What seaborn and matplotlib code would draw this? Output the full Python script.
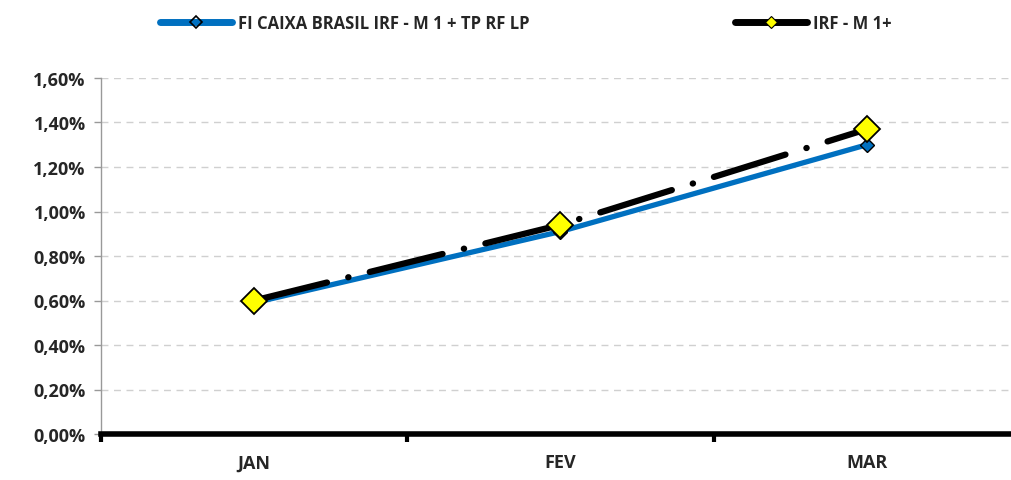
import pandas as pd
import seaborn as sns
import matplotlib.pyplot as plt
from matplotlib.lines import Line2D
from matplotlib.ticker import FuncFormatter, FixedLocator
from matplotlib import font_manager

months = ["JAN", "FEV", "MAR"]
fundo = [0.59, 0.91, 1.30]
indice = [0.60, 0.94, 1.37]
nome_fundo = "FI CAIXA BRASIL IRF - M 1 + TP RF LP"
nome_indice = "IRF - M 1+"

df = pd.DataFrame({"mes": range(len(months)), "fundo": fundo, "indice": indice})

sns.set_style("white")
names = {f.name for f in font_manager.fontManager.ttflist}
fam = [n for n in ["Liberation Sans Narrow", "Open Sans", "DejaVu Sans"] if n in names]
plt.rcParams["font.family"] = fam
plt.rcParams["font.weight"] = "bold"
plt.rcParams["xtick.bottom"] = True
plt.rcParams["ytick.left"] = True

fig = plt.figure(figsize=(10.12, 4.81), dpi=100)
ax = fig.add_axes([101 / 1012, 1 - 435 / 481, 919 / 1012, 356 / 481])

sns.lineplot(data=df, x="mes", y="fundo", ax=ax, color="#0070C0", linewidth=3.8,
             marker="D", markersize=7, markerfacecolor="#0070C0",
             markeredgecolor="black", markeredgewidth=1.0,
             solid_capstyle="round", zorder=3)
sns.lineplot(data=df, x="mes", y="indice", ax=ax, color="black", linewidth=4.5,
             linestyle=(0, (12, 3.5, 0.05, 3.5)), dash_capstyle="round",
             marker="D", markersize=13, markerfacecolor="#FFFF00",
             markeredgecolor="black", markeredgewidth=1.3, zorder=4)

ax.set_xlim(-0.5, 2.5)
ax.set_ylim(0, 1.6)
ax.set_xticks(range(len(months)))
ax.set_xticklabels(months, fontsize=13, fontweight="bold")
ax.xaxis.set_minor_locator(FixedLocator([-0.5, 0.5, 1.5, 2.5]))
ax.tick_params(axis="x", which="major", length=0, pad=14)
ax.tick_params(axis="x", which="minor", bottom=True, length=6, width=3,
               color="black", direction="out")
ax.set_yticks([i * 0.2 for i in range(9)])
ax.yaxis.set_major_formatter(FuncFormatter(lambda v, p: f"{v:.2f}%".replace(".", ",")))
ax.tick_params(axis="y", left=True, length=5, width=1, color="#999999",
               labelsize=13, pad=6)
for lab in ax.get_yticklabels():
    lab.set_fontweight("bold")

ax.grid(axis="y", linestyle=(0, (5, 4)), color="#D0D0D0", linewidth=1)
ax.set_axisbelow(True)
for side in ["top", "right"]:
    ax.spines[side].set_visible(False)
ax.spines["left"].set_color("#999999")
ax.spines["left"].set_linewidth(1)
ax.spines["bottom"].set_color("black")
ax.spines["bottom"].set_linewidth(4)
ax.set_xlabel("")
ax.set_ylabel("")

handles = [
    Line2D([], [], color="#0070C0", linewidth=5, solid_capstyle="round", marker="D",
           markersize=6, markerfacecolor="none", markeredgecolor="black",
           markeredgewidth=1.2),
    Line2D([], [], color="black", linewidth=5, solid_capstyle="round", marker="D",
           markersize=6, markerfacecolor="#FFFF00", markeredgecolor="black",
           markeredgewidth=0.8),
]
fig.legend(handles, [nome_fundo, nome_indice], loc="upper left",
           bbox_to_anchor=(145 / 1012, 1.0), ncol=2, frameon=False,
           prop={"weight": "bold", "size": 12}, handlelength=4.3,
           handletextpad=0.4, columnspacing=12.3)

fig.savefig("out.png", dpi=100)
